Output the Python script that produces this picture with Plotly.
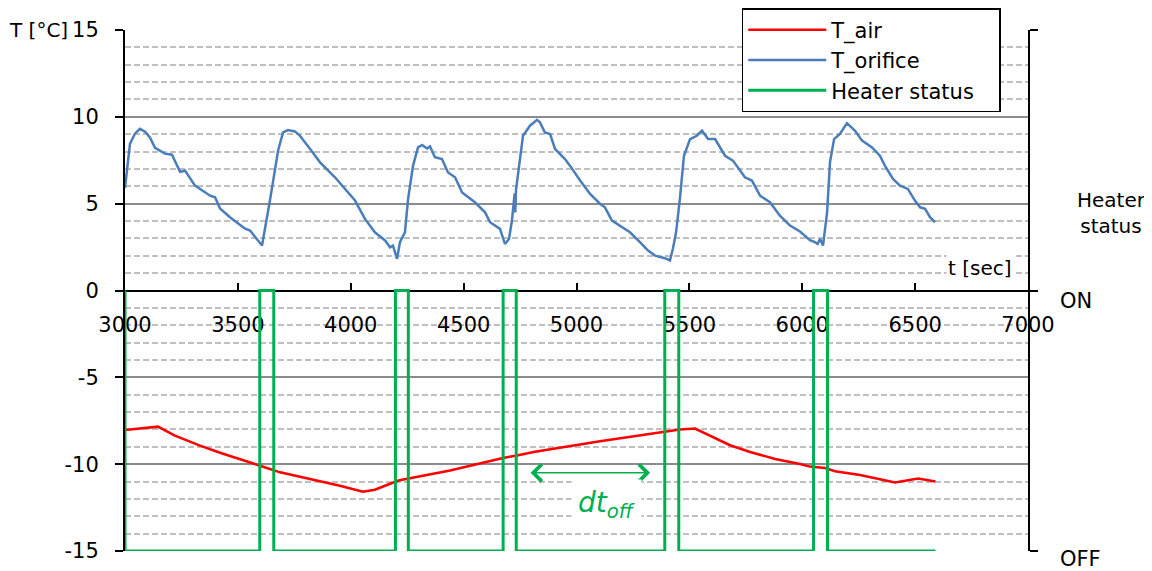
import plotly.graph_objects as go

# ---------------- data ----------------
t_orifice_t = [3000, 3022, 3044, 3066, 3089, 3111, 3133, 3177, 3208, 3244, 3266, 3310, 3377, 3399,
               3421, 3465, 3532, 3554, 3589, 3607, 3642, 3678, 3700, 3722, 3753, 3775, 3820, 3864,
               3930, 3975, 4019, 4063, 4107, 4152, 4174, 4187, 4205, 4218, 4240, 4254, 4276, 4298,
               4316, 4338, 4351, 4373, 4404, 4431, 4462, 4493, 4550, 4595, 4617, 4661, 4683, 4701,
               4714, 4726, 4729, 4732, 4741, 4763, 4794, 4825, 4838, 4860, 4883, 4905, 4949, 4971,
               5016, 5060, 5104, 5126, 5157, 5193, 5237, 5281, 5317, 5348, 5392, 5414, 5427, 5441,
               5458, 5476, 5503, 5533, 5556, 5583, 5614, 5658, 5693, 5746, 5777, 5813, 5857, 5901,
               5946, 5990, 6034, 6056, 6068, 6079, 6092, 6110, 6123, 6141, 6167, 6198, 6234, 6265,
               6309, 6344, 6366, 6402, 6433, 6468, 6499, 6522, 6544, 6566, 6588]
t_orifice_v = [5.9, 8.45, 9.03, 9.31, 9.14, 8.8, 8.22, 7.88, 7.82, 6.84, 6.9, 6.04, 5.46, 5.37,
               4.72, 4.22, 3.56, 3.45, 2.88, 2.59, 5.18, 8.05, 9.1, 9.24, 9.16, 8.91, 8.15, 7.38,
               6.52, 5.85, 5.18, 4.12, 3.35, 2.88, 2.49, 2.59, 1.82, 2.78, 3.35, 5.27, 7.19, 8.24,
               8.38, 8.18, 8.3, 7.67, 7.57, 6.8, 6.52, 5.65, 5.08, 4.5, 3.93, 3.55, 2.68, 2.97,
               4.03, 5.6, 4.5, 5.8, 6.8, 8.91, 9.49, 9.83, 9.68, 9.1, 9.01, 8.15, 7.57, 7.19,
               6.33, 5.56, 5.0, 4.79, 4.03, 3.74, 3.35, 2.78, 2.3, 2.01, 1.86, 1.73, 2.4, 3.35,
               5.27, 7.76, 8.72, 8.91, 9.2, 8.72, 8.72, 7.76, 7.48, 6.52, 6.33, 5.46, 5.08, 4.31,
               3.74, 3.4, 2.9, 2.78, 2.68, 2.97, 2.59, 4.5, 7.4, 8.72, 9.01, 9.64, 9.2, 8.63,
               8.24, 7.76, 7.19, 6.42, 6.04, 5.85, 5.18, 4.79, 4.7, 4.22, 3.93]

t_air_t = [3000, 3146, 3221, 3332, 3421, 3478, 3598, 3687, 3819, 3952, 4054, 4107, 4200, 4216,
           4440, 4679, 4736, 4816, 5104, 5396, 5458, 5525, 5590, 5680, 5769, 5880, 5990, 6034,
           6101, 6145, 6256, 6322, 6411, 6513, 6590]
t_air_v = [-8.03, -7.84, -8.36, -8.93, -9.34, -9.57, -10.09, -10.47, -10.85, -11.24, -11.59, -11.47,
           -11.0, -10.93, -10.37, -9.63, -9.5, -9.28, -8.68, -8.13, -8.01, -7.95, -8.34, -8.91,
           -9.3, -9.7, -9.99, -10.14, -10.22, -10.41, -10.62, -10.82, -11.05, -10.82, -11.0]

heater_t = [3000, 3000, 3597, 3659, 4198, 4255, 4675, 4733, 5391, 5453, 6050, 6112, 6590]
heater_v = [1, 0, 1, 0, 1, 0, 1, 0, 1, 0, 1, 0, 0]

series_names = ["T_air", "T_orifice", "Heater status\u00a0\u00a0\u00a0"]

x_ticks = [3000, 3500, 4000, 4500, 5000, 5500, 6000, 6500, 7000]
y_ticks = [-15, -10, -5, 0, 5, 10, 15]
y_tick_text = ["-15", "-10", "-5", "0", "5", "10", "15"]

FONT = "DejaVu Sans"
GREEN = "#00B050"

fig = go.Figure()
fig.add_trace(go.Scatter(x=t_air_t, y=t_air_v, name=series_names[0], mode="lines",
                         line=dict(color="#FF0000", width=2.5)))
fig.add_trace(go.Scatter(x=t_orifice_t, y=t_orifice_v, name=series_names[1], mode="lines",
                         line=dict(color="#4A7EBB", width=2.5)))
fig.add_trace(go.Scatter(x=heater_t, y=heater_v, name=series_names[2], mode="lines",
                         line=dict(color=GREEN, width=3, shape="hv"), yaxis="y2",
                         cliponaxis=False))

fig.update_layout(
    width=1152, height=571,
    margin=dict(l=117, r=132, t=22, b=28, autoexpand=False),
    paper_bgcolor="white", plot_bgcolor="white",
    font=dict(family=FONT, size=21, color="black"),
    showlegend=True,
    legend=dict(x=0.683, y=1.042, xanchor="left", yanchor="top",
                bgcolor="white", bordercolor="black", borderwidth=1.5,
                font=dict(size=21), tracegroupgap=0, itemwidth=78),
    xaxis=dict(range=[3000, 7000], tickvals=x_ticks, anchor="free", position=0.5,
               showgrid=False, zeroline=False, showline=True, linecolor="black", linewidth=2,
               ticks="inside", ticklen=7, tickwidth=1.5, tickcolor="black",
               ticklabelstandoff=15, tickfont=dict(size=21), layer="below traces"),
    yaxis=dict(range=[-15, 15], tickvals=y_ticks, ticktext=y_tick_text, showgrid=True,
               gridcolor="#8C8C8C", gridwidth=1.5, zeroline=False, showline=True,
               linecolor="black", linewidth=2,
               ticks="outside", ticklen=8, tickwidth=1.5, tickcolor="black",
               ticklabelstandoff=12, tickfont=dict(size=21), layer="below traces",
               minor=dict(dtick=1, showgrid=True, gridcolor="#BFBFBF", griddash="6px,3px",
                          gridwidth=1.5, ticks="")),
    yaxis2=dict(range=[0, 2], overlaying="y", side="right", tickvals=[0, 1, 2],
                showticklabels=False, showgrid=False, zeroline=False, showline=True,
                linecolor="black", linewidth=2, ticks="outside", ticklen=8, tickwidth=1.5,
                tickcolor="black", layer="below traces"),
)

# axis labels / texts
fig.add_annotation(text="T [°C]", xref="paper", yref="paper", x=-0.096, y=1.0,
                   xanchor="center", yanchor="middle", showarrow=False, font=dict(size=20))
fig.add_annotation(text="t [sec]", xref="paper", yref="paper", x=0.947, y=0.543,
                   xanchor="center", yanchor="middle", showarrow=False, font=dict(size=20),
                   bgcolor="white")
fig.add_annotation(text="Heater<br>status", xref="paper", yref="paper", x=1.092, y=0.648,
                   xanchor="center", yanchor="middle", showarrow=False, font=dict(size=20))
fig.add_annotation(text="ON", xref="paper", yref="y2", x=1.033, y=1, yshift=-10,
                   xanchor="left", yanchor="middle", showarrow=False, font=dict(size=21))
fig.add_annotation(text="OFF", xref="paper", yref="y2", x=1.033, y=0, yshift=-8,
                   xanchor="left", yanchor="middle", showarrow=False, font=dict(size=21))

# dt_off arrow and label
fig.add_annotation(x=5326, y=-10.5, ax=4790, ay=-10.5, xref="x", yref="y", axref="x", ayref="y",
                   text="", showarrow=True, arrowside="end+start", arrowhead=4, startarrowhead=4,
                   arrowsize=2.2, startarrowsize=2.2, arrowwidth=1.5, arrowcolor=GREEN)
fig.add_annotation(text="<i>dt<sub>off</sub></i>", xref="paper", yref="paper", x=0.533, y=0.09,
                   xanchor="center", yanchor="middle", showarrow=False,
                   font=dict(size=28, color=GREEN), bgcolor="white", borderpad=6)

fig.write_html("out.html")
